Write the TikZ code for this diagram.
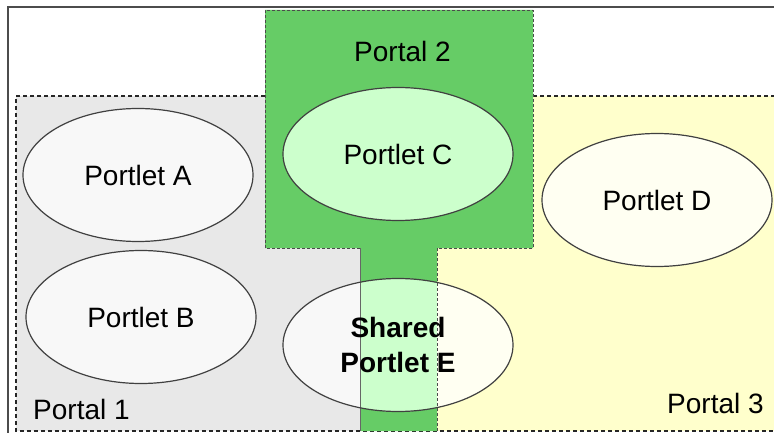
\documentclass[tikz,border=0pt]{standalone}
\usepackage{fontspec}
\setmainfont{Liberation Sans}
\usetikzlibrary{shapes.geometric}

\definecolor{portalgrey}{HTML}{E8E8E8}
\definecolor{portalgreen}{HTML}{66CC66}
\definecolor{portalyellow}{HTML}{FFFFCC}
\definecolor{portletwhite}{HTML}{F8F8F8}
\definecolor{portletgreen}{HTML}{CCFFCC}
\definecolor{portletcream}{HTML}{FFFFF2}

\tikzset{
    portlet/.style={ellipse, draw=black!75, line width=1.2pt, minimum width=230pt,
        minimum height=133pt, inner sep=0pt, align=center, font=\fontsize{28}{35}\selectfont},
    portalframe/.style={draw=black!85, line width=1.2pt, dash pattern=on 4pt off 3pt},
    stemframe/.style={draw=black!70, line width=0.9pt, dash pattern=on 3pt off 2pt},
    portallabel/.style={inner sep=0pt, anchor=base west, font=\fontsize{28}{35}\selectfont},
}

\begin{document}
\begin{tikzpicture}[x=1pt, y=-1pt]
    \clip (0,0) rectangle (774,433);
    \fill[white] (0,0) rectangle (774,433);
    \draw[black!70, line width=1.5pt] (8,7) rectangle (800,460);

    \fill[portalgrey] (16,96) rectangle (360,431);
    \fill[portalyellow] (437,96) rectangle (800,431);
    \draw[portalframe] (265,96) -- (16,96) -- (16,431) -- (800,431);
    \draw[portalframe] (533,96) -- (800,96);

    \fill[portalgreen] (265,10) -- (533,10) -- (533,248) -- (437,248) -- (437,431)
        -- (360,431) -- (360,248) -- (265,248) -- cycle;
    \draw[stemframe] (437,431) -- (437,248) -- (533,248) -- (533,10) -- (265,10)
        -- (265,248) -- (360,248);

    \node[portallabel] (portal1) at (33,419) {Portal 1};
    \node[portallabel] (portal2) at (354,62) {Portal 2};
    \node[portallabel] (portal3) at (667,413) {Portal 3};

    \node[portlet, fill=portletwhite] (portletA) at (138,175) {Portlet A};
    \node[portlet, fill=portletwhite] (portletB) at (141,317) {Portlet B};
    \node[portlet, fill=portletgreen] (portletC) at (398,154) {Portlet C};
    \node[portlet, fill=portletcream] (portletD) at (657,200) {Portlet D};

    \coordinate (centreE) at (398,345);
    \node[portlet, draw=none, fill=portletwhite] at (centreE) {};
    \begin{scope}
        \clip (360,200) rectangle (437,431);
        \node[portlet, draw=none, fill=portletgreen] at (centreE) {};
    \end{scope}
    \begin{scope}
        \clip (437,200) rectangle (600,431);
        \node[portlet, draw=none, fill=portletcream] at (centreE) {};
    \end{scope}
    \draw[black!60, line width=0.9pt] (360,248) -- (360,431);
    \draw[stemframe] (437,248) -- (437,431);
    \node[portlet, font=\fontsize{28}{35}\selectfont\bfseries] (portletE) at (centreE)
        {Shared\\Portlet E};
\end{tikzpicture}
\end{document}
